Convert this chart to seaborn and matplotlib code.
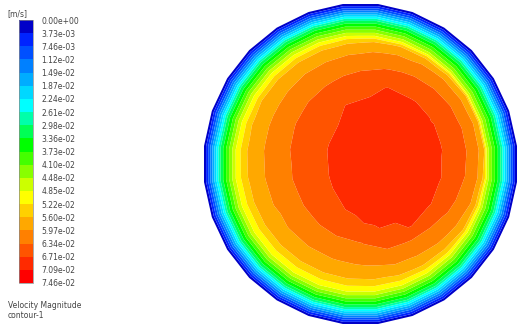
import numpy as np
import matplotlib
matplotlib.use("Agg")
import matplotlib.pyplot as plt
import matplotlib.tri as mtri
from matplotlib.colors import ListedColormap, BoundaryNorm
from matplotlib.cm import ScalarMappable
import seaborn as sns

sns.set_style("white")
plt.rcParams['font.family'] = ['DejaVu Sans']

# Limites das faixas da legenda (m/s)
niveis = [0.0, 3.73e-3, 7.46e-3, 1.12e-2, 1.49e-2, 1.87e-2, 2.24e-2, 2.61e-2,
          2.98e-2, 3.36e-2, 3.73e-2, 4.10e-2, 4.48e-2, 4.85e-2, 5.22e-2,
          5.60e-2, 5.97e-2, 6.34e-2, 6.71e-2, 7.09e-2, 7.46e-2]
rotulos = ["0.00e+00", "3.73e-03", "7.46e-03", "1.12e-02", "1.49e-02",
           "1.87e-02", "2.24e-02", "2.61e-02", "2.98e-02", "3.36e-02",
           "3.73e-02", "4.10e-02", "4.48e-02", "4.85e-02", "5.22e-02",
           "5.60e-02", "5.97e-02", "6.34e-02", "6.71e-02", "7.09e-02",
           "7.46e-02"]
cores = ["#0000c8", "#0024ff", "#0050ff", "#0080ff", "#00acff", "#00d8ff",
         "#00ffff", "#00ffaa", "#00ff55", "#00ff00", "#44ff00", "#88ff00",
         "#ccff00", "#ffff00", "#ffd000", "#ffa800", "#ff8000", "#ff5400",
         "#ff2a00", "#ff0000"]

# Isolinhas (raio = 1 na parede):
# semi-eixo horizontal, centro (x, y) e razao altura/largura de cada curva
curva_rho = [0.0, 0.39, 0.57, 0.69, 0.76, 0.80, 1.0]
curva_cx = [0.165, 0.165, 0.11, 0.07, 0.03, 0.0, 0.0]
curva_cy = [0.02, 0.02, 0.045, 0.03, 0.02, 0.0, 0.0]
curva_asp = [1.2, 1.2, 0.95, 0.97, 0.98, 1.0, 1.0]
# velocidade ao longo do semi-eixo
perfil_rho = [0.0, 0.39, 0.57, 0.69, 0.76, 0.78, 0.80, 0.85, 0.90, 0.92, 0.96, 1.0]
perfil_v = [0.0700, 0.0671, 0.0634, 0.0597, 0.0560, 0.0522, 0.0485, 0.0390,
            0.0290, 0.0224, 0.0110, 0.0]

# Malha polar grosseira da secao do tubo
aneis = [0.0, 0.12, 0.25, 0.38, 0.5, 0.6, 0.66, 0.71, 0.74, 0.77, 0.79, 0.81,
         0.83, 0.86, 0.89, 0.92, 0.95, 0.975, 1.0]
n_ang = [1, 5, 8, 12, 18, 22] + [28] * 13

xs, ys = [], []
for r, n in zip(aneis, n_ang):
    ang = np.arange(n) * 2 * np.pi / n + np.pi / n
    xs.extend(r * np.cos(ang))
    ys.extend(r * np.sin(ang))
xs = np.array(xs)
ys = np.array(ys)

# em qual curva cai cada no (bissecao)
lo = np.full(xs.shape, 1e-4)
hi = np.full(xs.shape, 1.0)
for _ in range(50):
    m = 0.5 * (lo + hi)
    cx = np.interp(m, curva_rho, curva_cx)
    cy = np.interp(m, curva_rho, curva_cy)
    a = np.interp(m, curva_rho, curva_asp)
    g = np.hypot((xs - cx) / m, (ys - cy) / (m * a))
    lo = np.where(g > 1, m, lo)
    hi = np.where(g > 1, hi, m)
rho = 0.5 * (lo + hi)
vel = np.interp(rho, perfil_rho, perfil_v)
vel[np.hypot(xs, ys) >= 0.999] = 0.0

tri = mtri.Triangulation(xs, ys)

W, H = 519, 327
fig = plt.figure(figsize=(W / 100, H / 100), dpi=100)

ax = fig.add_axes([203 / W, 1 - 325 / H, 315 / W, 322 / H])
ax.tricontourf(tri, vel, levels=niveis, colors=cores, antialiased=True)
ax.set_xlim(-1, 1)
ax.set_ylim(-1, 1)
ax.axis("off")

# Legenda de cores (0 em cima, como na figura)
cmap = ListedColormap(cores)
norm = BoundaryNorm(niveis, cmap.N)
cax = fig.add_axes([19 / W, 1 - 283 / H, 14 / W, 263 / H])
cb = fig.colorbar(ScalarMappable(norm=norm, cmap=cmap), cax=cax,
                  ticks=niveis, spacing="uniform")
cax.invert_yaxis()
cb.set_ticklabels(rotulos)
cax.tick_params(length=0, pad=6, labelsize=5.5, labelcolor="#444444")
cb.outline.set_linewidth(0.5)
cb.outline.set_edgecolor("#888888")

fig.text(7 / W, 1 - 14 / H, "[m/s]", fontsize=5.5, color="#444444", va="center")
fig.text(8 / W, 1 - 305 / H, "Velocity Magnitude", fontsize=5.5,
         color="#444444", va="center")
fig.text(8 / W, 1 - 315 / H, "contour-1", fontsize=5.5, color="#444444",
         va="center")

fig.savefig("out.png", dpi=100)
